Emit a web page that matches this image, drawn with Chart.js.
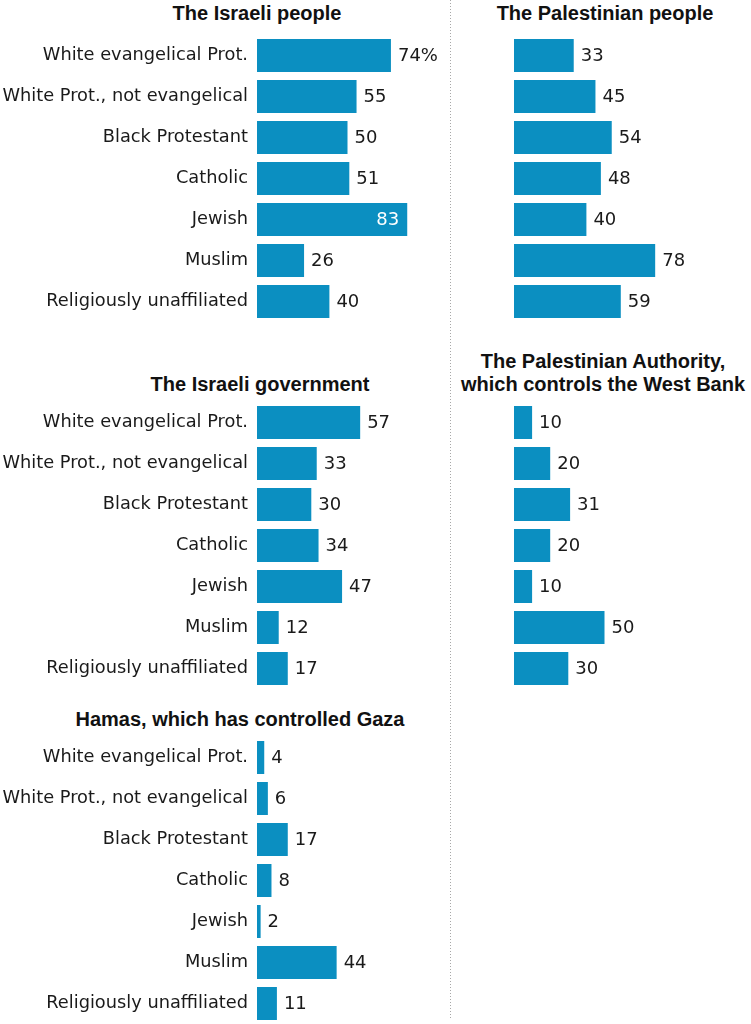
<!DOCTYPE html>
<html>
<head>
<meta charset="utf-8">
<script src="https://cdn.jsdelivr.net/npm/chart.js@4"></script>
<style>
  body { margin: 0; background: #fff; width: 751px; height: 1024px; position: relative; overflow: hidden; }
  .box { position: absolute; }
  .title { position: absolute; transform: translateX(-50%); white-space: nowrap; text-align: center;
           font-family: "Liberation Sans", Arial, sans-serif; font-weight: bold; font-size: 20px; color: #111; line-height: 23px; }
  .divider { position: absolute; left: 450px; top: 0; width: 1px; height: 1020px;
             background: repeating-linear-gradient(to bottom, #a8a8a8 0 1px, transparent 1px 3px); }
</style>
</head>
<body>
<div class="divider"></div>

<div class="title" style="left:257px; top:2px;">The Israeli people</div>
<div class="title" style="left:605px; top:2px;">The Palestinian people</div>
<div class="title" style="left:260px; top:373px;">The Israeli government</div>
<div class="title" style="left:603px; top:350px;">The Palestinian Authority,<br>which controls the West Bank</div>
<div class="title" style="left:240px; top:708px;">Hamas, which has controlled Gaza</div>

<div class="box" style="left:0; top:35px; width:450px; height:287px;"><canvas id="israeliPeople"></canvas></div>
<div class="box" style="left:514px; top:35px; width:237px; height:287px;"><canvas id="palestinianPeople"></canvas></div>
<div class="box" style="left:0; top:402px; width:450px; height:287px;"><canvas id="israeliGov"></canvas></div>
<div class="box" style="left:514px; top:402px; width:237px; height:287px;"><canvas id="palestinianAuth"></canvas></div>
<div class="box" style="left:0; top:737px; width:450px; height:287px;"><canvas id="hamas"></canvas></div>

<script>
// groups asked about, same order in every panel
const categories = [
    'White evangelical Prot.',
    'White Prot., not evangelical',
    'Black Protestant',
    'Catholic',
    'Jewish',
    'Muslim',
    'Religiously unaffiliated'
];

// % with a favorable view of ...
const israeliPeople = [74, 55, 50, 51, 83, 26, 40];
const palestinianPeople = [33, 45, 54, 48, 40, 78, 59];
const israeliGov = [57, 33, 30, 34, 47, 12, 17];
const palestinianAuth = [10, 20, 31, 20, 10, 50, 30];
const hamas = [4, 6, 17, 8, 2, 44, 11];

const barColor = '#0b8fc1';
const labelFont = '"DejaVu Sans", sans-serif';

// writes the number next to each bar (inside the bar, in white, when it's long)
const valueLabels = {
    id: 'valueLabels',
    afterDatasetsDraw(chart, args, opts) {
        const ctx = chart.ctx;
        const meta = chart.getDatasetMeta(0);
        const data = chart.data.datasets[0].data;
        ctx.save();
        ctx.font = '18px ' + labelFont;
        ctx.textBaseline = 'middle';
        meta.data.forEach((bar, i) => {
            let txt = String(data[i]);
            if (opts.firstSuffix && i === 0) txt += opts.firstSuffix;
            if (data[i] >= 80) {
                ctx.fillStyle = '#ffffff';
                ctx.textAlign = 'right';
                ctx.fillText(txt, bar.x - 8, bar.y + 1);
            } else {
                ctx.fillStyle = '#1a1a1a';
                ctx.textAlign = 'left';
                ctx.fillText(txt, bar.x + 7, bar.y + 1);
            }
        });
        ctx.restore();
    }
};

function makeChart(id, values, showLabels, suffix) {
    const ctx = document.getElementById(id).getContext('2d');
    return new Chart(ctx, {
        type: 'bar',
        data: {
            labels: categories,
            datasets: [{
                data: values,
                backgroundColor: barColor,
                borderWidth: 0,
                barPercentage: 0.805,
                categoryPercentage: 1
            }]
        },
        options: {
            indexAxis: 'y',
            responsive: true,
            maintainAspectRatio: false,
            animation: false,
            layout: {
                padding: { left: 0, top: 0, bottom: 0, right: showLabels ? 12 : 56 }
            },
            plugins: {
                legend: { display: false },
                tooltip: { enabled: false },
                valueLabels: { firstSuffix: suffix }
            },
            scales: {
                x: {
                    display: false,
                    min: 0,
                    max: 100
                },
                y: {
                    display: showLabels,
                    grid: { display: false, drawTicks: false },
                    border: { display: false },
                    ticks: {
                        padding: 9,
                        color: '#1a1a1a',
                        font: { family: labelFont, size: 17.8 }
                    },
                    afterFit(scale) {
                        // bars all start at the same x on the left side,
                        // and the labels shouldn't push the plot area in
                        if (showLabels) scale.width = 257;
                        scale.paddingTop = 0;
                        scale.paddingBottom = 0;
                    }
                }
            }
        },
        plugins: [valueLabels]
    });
}

makeChart('israeliPeople', israeliPeople, true, '%');
makeChart('palestinianPeople', palestinianPeople, false);
makeChart('israeliGov', israeliGov, true);
makeChart('palestinianAuth', palestinianAuth, false);
makeChart('hamas', hamas, true);
</script>
</body>
</html>
